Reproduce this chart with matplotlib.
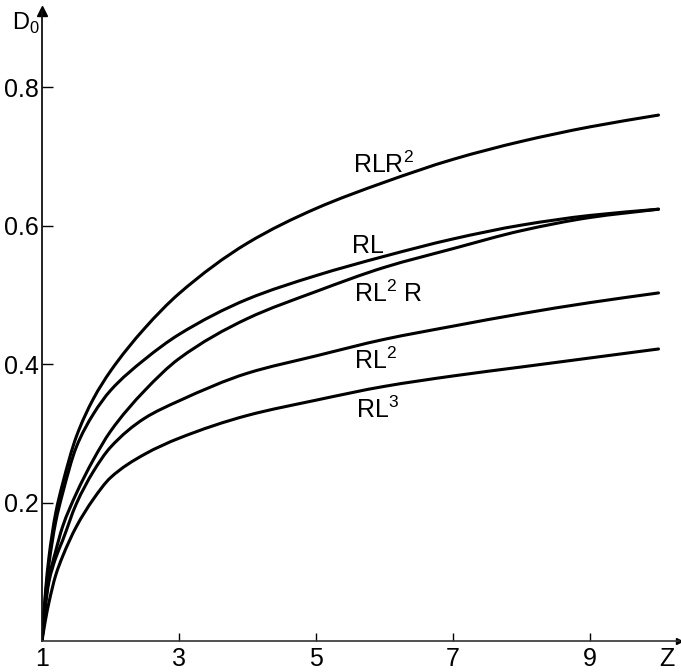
import matplotlib
matplotlib.use("Agg")
import matplotlib.pyplot as plt
from matplotlib.path import Path
from matplotlib.patches import PathPatch

plt.rcParams['font.family'] = ['Liberation Sans', 'DejaVu Sans']
plt.rcParams['mathtext.fontset'] = 'custom'
plt.rcParams['mathtext.rm'] = 'Liberation Sans'

# Data
z = [1.0, 1.05, 1.1, 1.2, 1.3, 1.5, 1.75, 2.0, 2.5, 3.0, 4.0, 5.0, 6.0, 7.0, 8.0, 9.0, 10.0]
d_rlr2 = [0.0, 0.070, 0.120, 0.185, 0.227, 0.295, 0.350, 0.390, 0.452, 0.502, 0.575, 0.625, 0.663, 0.696, 0.722, 0.743, 0.760]
d_rl   = [0.0, 0.065, 0.110, 0.172, 0.213, 0.280, 0.328, 0.362, 0.407, 0.443, 0.494, 0.528, 0.556, 0.581, 0.601, 0.615, 0.624]
d_rl2r = [0.0, 0.055, 0.090, 0.130, 0.165, 0.213, 0.262, 0.303, 0.362, 0.408, 0.466, 0.505, 0.540, 0.567, 0.593, 0.612, 0.624]
d_rl2  = [0.0, 0.050, 0.085, 0.120, 0.145, 0.198, 0.245, 0.280, 0.322, 0.347, 0.387, 0.412, 0.436, 0.455, 0.473, 0.489, 0.503]
d_rl3  = [0.0, 0.030, 0.055, 0.095, 0.122, 0.165, 0.205, 0.236, 0.270, 0.293, 0.326, 0.348, 0.368, 0.383, 0.396, 0.409, 0.422]

series = [d_rlr2, d_rl, d_rl2r, d_rl2, d_rl3]

label_texts = [r'RLR$^{\mathregular{2}}$', 'RL', r'RL$^{\mathregular{2}}$ R',
               r'RL$^{\mathregular{2}}$', r'RL$^{\mathregular{3}}$']
label_x = [5.54, 5.53, 5.55, 5.55, 5.58]
label_y = [0.676, 0.561, 0.490, 0.393, 0.322]

xticks = [1, 3, 5, 7, 9]
xtick_labels = ['1', '3', '5', '7', '9']
yticks = [0.2, 0.4, 0.6, 0.8]
ytick_labels = ['0.2', '0.4', '0.6', '0.8']


def smooth_path(xs, ys):
    """Monotone cubic (Fritsch-Carlson) Hermite curve as a Bezier path through the data."""
    n = len(xs)
    h = [xs[i + 1] - xs[i] for i in range(n - 1)]
    s = [(ys[i + 1] - ys[i]) / h[i] for i in range(n - 1)]
    m = [0.0] * n
    m[0] = s[0]
    m[-1] = s[-1]
    for i in range(1, n - 1):
        if s[i - 1] * s[i] <= 0:
            m[i] = 0.0
        else:
            w1 = 2 * h[i] + h[i - 1]
            w2 = h[i] + 2 * h[i - 1]
            m[i] = (w1 + w2) / (w1 / s[i - 1] + w2 / s[i])
    verts = [(xs[0], ys[0])]
    codes = [Path.MOVETO]
    for i in range(n - 1):
        verts += [(xs[i] + h[i] / 3, ys[i] + m[i] * h[i] / 3),
                  (xs[i + 1] - h[i] / 3, ys[i + 1] - m[i + 1] * h[i] / 3),
                  (xs[i + 1], ys[i + 1])]
        codes += [Path.CURVE4] * 3
    return Path(verts, codes)


W, H = 681, 672
fig = plt.figure(figsize=(W / 100, H / 100), dpi=100)
xmin, xmax = 1.0, 10.3
ymin, ymax = 0.0, 0.91
px_per_x = 68.5
px_per_y = 692.0
left_px, bottom_px = 42, H - 641
ax = fig.add_axes([left_px / W, bottom_px / H,
                   (xmax - xmin) * px_per_x / W, (ymax - ymin) * px_per_y / H])
ax.set_xlim(xmin, xmax)
ax.set_ylim(ymin, ymax)

for d in series:
    ax.add_patch(PathPatch(smooth_path(z, d), facecolor='none', edgecolor='black',
                           lw=2.2, capstyle='round', joinstyle='round'))

for t, x, y in zip(label_texts, label_x, label_y):
    ax.text(x, y, t, fontsize=18, ha='left', va='baseline', color='black')

for s in ['top', 'right']:
    ax.spines[s].set_visible(False)
ax.spines['left'].set_linewidth(1.3)
ax.spines['left'].set_color('#111111')
ax.spines['bottom'].set_linewidth(1.2)
ax.spines['bottom'].set_color('#333333')

ax.set_xticks(xticks)
ax.set_xticklabels(xtick_labels)
ax.set_yticks(yticks)
ax.set_yticklabels(ytick_labels)
ax.tick_params(axis='x', direction='in', length=6, width=1.0, pad=4, labelsize=18)
ax.tick_params(axis='y', direction='in', length=8, width=1.0, pad=2, labelsize=18)

# axis arrows
ax.plot([xmin], [ymax], marker='^', color='black', markersize=7, clip_on=False)
ax.plot([xmax], [ymin], marker='>', color='black', markersize=5, clip_on=False)

# axis titles
fig.text(12 / W, 1 - 30 / H, r'D$_{\mathregular{0}}$', fontsize=17, ha='left', va='baseline')
ax.annotate('Z', xy=(10.12, 0), xytext=(0, -4), textcoords='offset points',
            fontsize=18, ha='center', va='top')

fig.savefig('out.png', dpi=100)
